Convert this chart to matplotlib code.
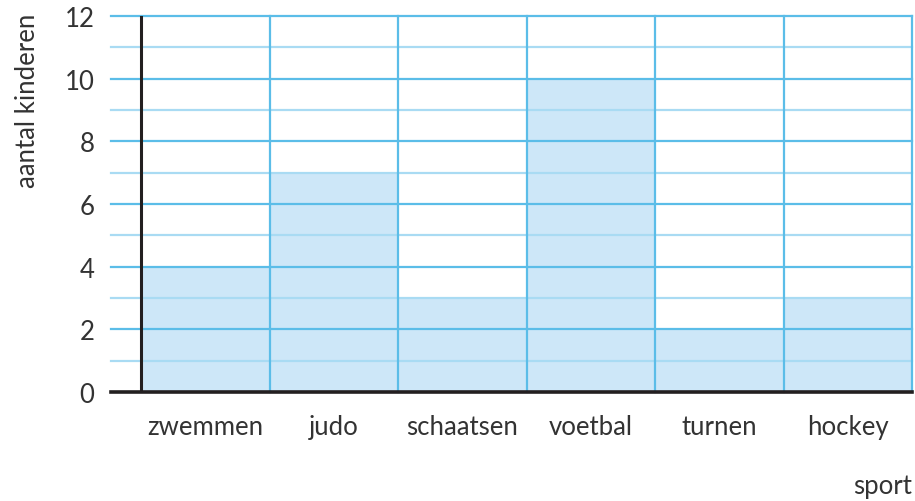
import matplotlib
matplotlib.use('Agg')
import matplotlib.pyplot as plt
import numpy as np

# gegevens uit de figuur
sporten = ['zwemmen', 'judo', 'schaatsen', 'voetbal', 'turnen', 'hockey']
aantal = [4, 7, 3, 10, 2, 3]
y_ticks = [0, 2, 4, 6, 8, 10, 12]

plt.rcParams['font.family'] = ['Lato', 'DejaVu Sans']
tekst_kleur = '#333333'
lijn_donker = '#5bbde8'
lijn_licht = '#a9dbf3'
vulling = '#cde7f8'

fig = plt.figure(figsize=(9.15, 5.02), dpi=100)
W, H = 915, 502
ax = fig.add_axes([111 / W, 1 - 393 / H, (912 - 111) / W, (393 - 17) / H])

n = len(sporten)
links = 30 / 128.5  # stuk raster links van de y-as
ax.set_xlim(-links, n)
ax.set_ylim(0, 12)

# staven
ax.bar(np.arange(n), aantal, width=1, align='edge', color=vulling, zorder=1, linewidth=0)

# horizontale rasterlijnen
for y in range(1, 13):
    kleur = lijn_donker if y % 2 == 0 else lijn_licht
    ax.axhline(y, color=kleur, lw=1.6, zorder=2, clip_on=False)

# verticale lijnen tussen categorieen
for x in range(1, n + 1):
    ax.axvline(x, color=lijn_donker, lw=1.6, zorder=2, clip_on=False)

# assen
ax.axvline(0, color='#231f20', lw=2.2, zorder=3)
ax.axhline(0, color='#231f20', lw=2.6, zorder=3, clip_on=False)

for s in ax.spines.values():
    s.set_visible(False)

ax.set_xticks(np.arange(n) + 0.5)
ax.set_xticklabels(sporten, fontsize=18.5, color=tekst_kleur)
ax.set_yticks(y_ticks)
ax.set_yticklabels([str(v) for v in y_ticks], fontsize=18.5, color=tekst_kleur)
ax.tick_params(axis='both', length=0)
ax.tick_params(axis='x', pad=16)
ax.tick_params(axis='y', pad=12)

fig.text(28 / W, 1 - 101 / H, 'aantal kinderen', rotation=90, fontsize=18.5,
         color=tekst_kleur, ha='center', va='center')
fig.text(912 / W, 1 - 487 / H, 'sport', fontsize=18.5, color=tekst_kleur,
         ha='right', va='center')

fig.savefig('out.png', dpi=100)
